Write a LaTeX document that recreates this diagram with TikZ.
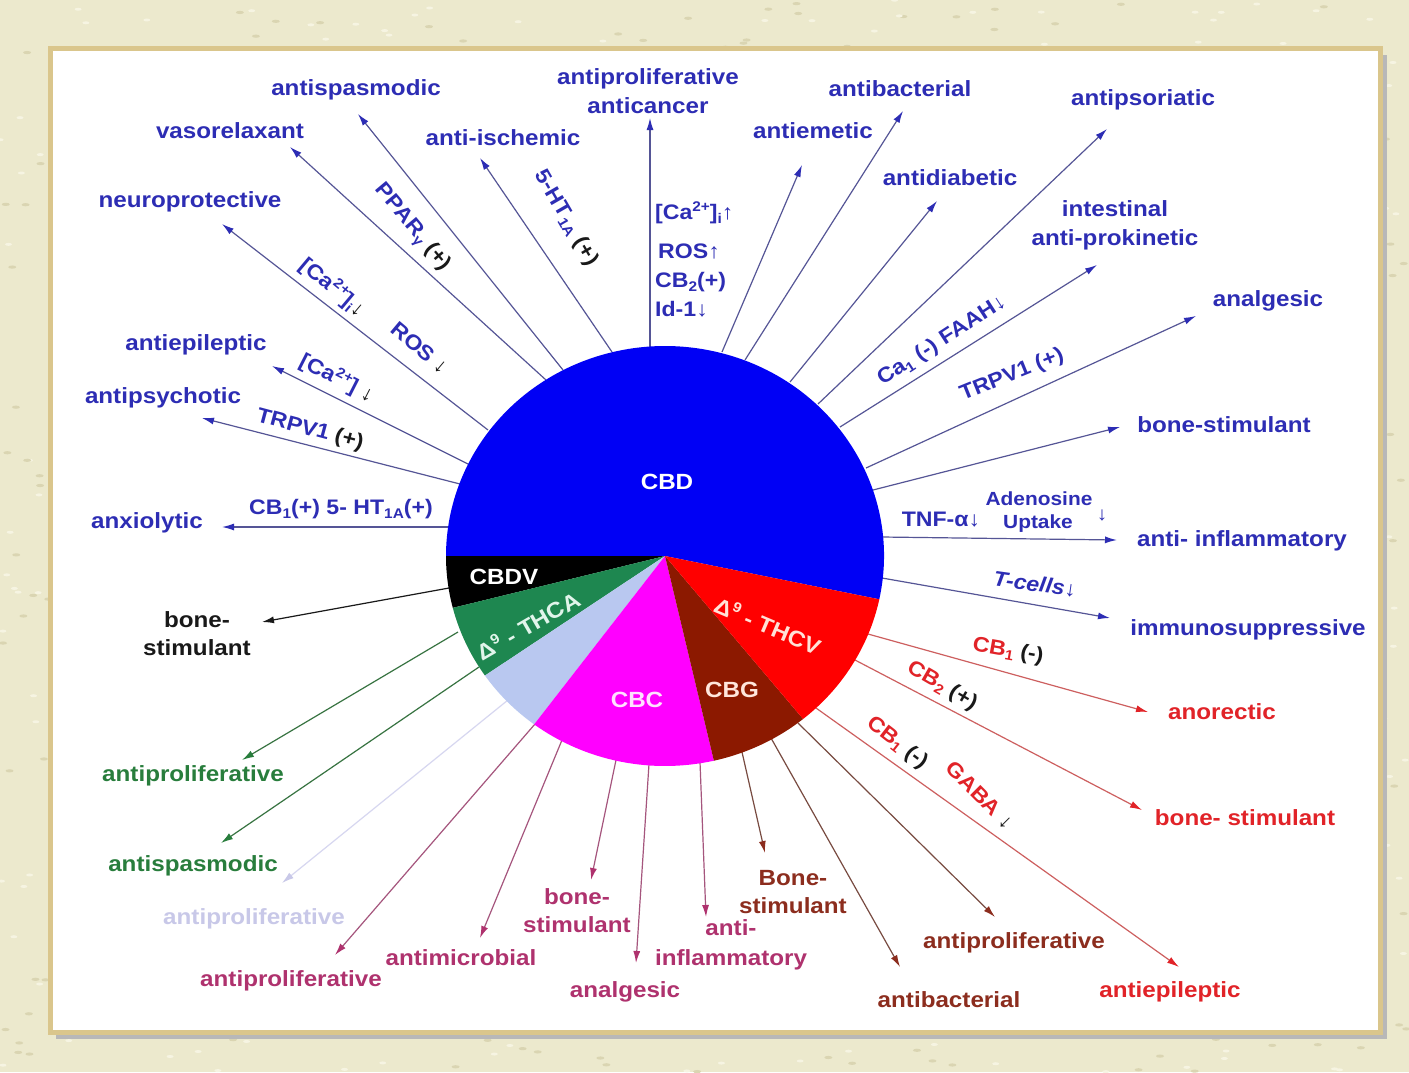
\documentclass[tikz,border=0pt]{standalone}
\usepackage{fontspec}
\setmainfont{Liberation Sans}[FakeStretch=1.1]
\usetikzlibrary{arrows.meta}
\definecolor{bgbeige}{RGB}{236,233,205}
\definecolor{bgdot}{RGB}{218,213,178}
\definecolor{bglight}{RGB}{246,244,226}
\definecolor{framegold}{RGB}{218,198,140}
\definecolor{tblue}{RGB}{45,45,180}
\definecolor{lblue}{RGB}{85,85,150}
\definecolor{tred}{RGB}{225,35,40}
\definecolor{lred}{RGB}{205,95,95}
\definecolor{tmaroon}{RGB}{140,45,30}
\definecolor{lmaroon}{RGB}{120,75,65}
\definecolor{tmag}{RGB}{175,50,110}
\definecolor{lmag}{RGB}{165,85,125}
\definecolor{tgreen}{RGB}{40,125,60}
\definecolor{lgreen}{RGB}{55,115,65}
\definecolor{tlav}{RGB}{200,200,232}
\definecolor{llav}{RGB}{215,215,240}
\definecolor{tblack}{RGB}{25,25,25}
\definecolor{pcbd}{RGB}{0,0,245}
\definecolor{pthca}{RGB}{30,135,80}
\definecolor{plb}{RGB}{185,200,240}
\definecolor{pcbc}{RGB}{255,0,255}
\definecolor{pcbg}{RGB}{140,25,0}
\definecolor{pthcv}{RGB}{255,0,0}
\definecolor{wthca}{RGB}{225,245,235}
\definecolor{wcbc}{RGB}{255,225,255}
\definecolor{wcbg}{RGB}{255,230,220}
\definecolor{wthcv}{RGB}{255,225,215}
\newcommand\sbx[1]{\raisebox{-0.35ex}{\fontsize{14}{14}\selectfont #1}}
\newcommand\spx[1]{\raisebox{0.75ex}{\fontsize{14}{14}\selectfont #1}}
\begin{document}
\begin{tikzpicture}[x=1pt,y=-1pt,
  lab/.style={font=\fontsize{22}{28}\selectfont\bfseries, text=#1, inner sep=0pt, align=center},
  ann/.style={font=\fontsize{21}{24}\selectfont\bfseries, text=#1, inner sep=0pt},
  small/.style={font=\fontsize{19}{22}\selectfont\bfseries, text=#1, inner sep=0pt},
  conn/.style 2 args={draw=#1, line width=1.2pt, -{Latex[length=12pt,width=7pt,color=#2]}},
  slice/.style={fill=#1, draw=none},
  pietxt/.style={font=\fontsize{22}{24}\selectfont\bfseries, text=#1, inner sep=0pt}]
\useasboundingbox (0,0) rectangle (1409,1072);
% background texture and frame
\fill[bgbeige] (0,0) rectangle (1409,1072);
\pgfmathsetseed{7}
\foreach \k in {1,...,700} {
  \pgfmathsetmacro{\px}{rnd*1409}
  \pgfmathsetmacro{\py}{rnd*1072}
  \fill[bgdot] (\px,\py) ellipse[x radius=4pt, y radius=1.6pt];
  \pgfmathsetmacro{\qx}{rnd*1409}
  \pgfmathsetmacro{\qy}{rnd*1072}
  \fill[bglight] (\qx,\qy) ellipse[x radius=3.5pt, y radius=1.5pt];
}
\fill[black!28] (56,55) rectangle (1387,1039);
\draw[framegold, line width=5pt, fill=white] (50,48) rectangle (1380,1032);
\coordinate (C) at (665,556);
% ---------- start / end coordinates ----------
\coordinate (s1) at (449,527);  \coordinate (e1) at (222,527);
\coordinate (s2) at (460,484);  \coordinate (e2) at (202,418);
\coordinate (s3) at (470,465);  \coordinate (e3) at (272,366);
\coordinate (s4) at (488,430);  \coordinate (e4) at (222,224);
\coordinate (s5) at (546,380);  \coordinate (e5) at (290,147);
\coordinate (s6) at (563,370);  \coordinate (e6) at (358,114);
\coordinate (s7) at (612,352);  \coordinate (e7) at (480,158);
\coordinate (s8) at (650,347);  \coordinate (e8) at (650,118);
\coordinate (s9) at (722,352);  \coordinate (e9) at (802,165);
\coordinate (s10) at (745,360); \coordinate (e10) at (903,111);
\coordinate (s11) at (790,382); \coordinate (e11) at (937,201);
\coordinate (s12) at (818,404); \coordinate (e12) at (1107,129);
\coordinate (s13) at (840,427); \coordinate (e13) at (1097,265);
\coordinate (s14) at (866,468); \coordinate (e14) at (1196,316);
\coordinate (s15) at (873,490); \coordinate (e15) at (1120,427);
\coordinate (s16) at (882,537); \coordinate (e16) at (1117,540);
\coordinate (s17) at (882,578); \coordinate (e17) at (1110,618);
\coordinate (s18) at (868,634); \coordinate (e18) at (1148,712);
\coordinate (s19) at (855,660); \coordinate (e19) at (1142,810);
\coordinate (s20) at (816,708); \coordinate (e20) at (1179,967);
\coordinate (s21) at (798,723); \coordinate (e21) at (995,917);
\coordinate (s22) at (771,738); \coordinate (e22) at (900,967);
\coordinate (s23) at (742,752); \coordinate (e23) at (765,853);
\coordinate (s24) at (700,762); \coordinate (e24) at (706,917);
\coordinate (s25) at (649,764); \coordinate (e25) at (636,963);
\coordinate (s26) at (616,760); \coordinate (e26) at (591,880);
\coordinate (s27) at (562,740); \coordinate (e27) at (480,938);
\coordinate (s28) at (535,724); \coordinate (e28) at (335,955);
\coordinate (s29) at (508,700); \coordinate (e29) at (282,883);
\coordinate (s30) at (479,667); \coordinate (e30) at (221,843);
\coordinate (s31) at (458,632); \coordinate (e31) at (242,760);
\coordinate (s32) at (449,588); \coordinate (e32) at (262,622);
% ---------- connectors ----------
\foreach \i in {1,...,17} {\draw[conn={lblue}{tblue}] (s\i) -- (e\i);}
\foreach \i in {18,19,20} {\draw[conn={lred}{tred}] (s\i) -- (e\i);}
\foreach \i in {21,22,23} {\draw[conn={lmaroon}{tmaroon}] (s\i) -- (e\i);}
\foreach \i in {24,...,28} {\draw[conn={lmag}{tmag}] (s\i) -- (e\i);}
\draw[conn={llav}{tlav}] (s29) -- (e29);
\foreach \i in {30,31} {\draw[conn={lgreen}{tgreen}] (s\i) -- (e\i);}
\draw[conn={tblack}{tblack}] (s32) -- (e32);
% ---------- pie ----------
\fill[slice=pcbd]  (C) -- ++(-11.9:219pt and 210pt) arc[start angle=-11.9, end angle=180, x radius=219pt, y radius=210pt] -- cycle;
\fill[slice=black] (C) -- ++(180:219pt and 210pt) arc[start angle=180, end angle=194.3, x radius=219pt, y radius=210pt] -- cycle;
\fill[slice=pthca] (C) -- ++(194.3:219pt and 210pt) arc[start angle=194.3, end angle=214.7, x radius=219pt, y radius=210pt] -- cycle;
\fill[slice=plb]   (C) -- ++(214.7:219pt and 210pt) arc[start angle=214.7, end angle=233.3, x radius=219pt, y radius=210pt] -- cycle;
\fill[slice=pcbc]  (C) -- ++(233.3:219pt and 210pt) arc[start angle=233.3, end angle=282.9, x radius=219pt, y radius=210pt] -- cycle;
\fill[slice=pcbg]  (C) -- ++(282.9:219pt and 210pt) arc[start angle=282.9, end angle=309.1, x radius=219pt, y radius=210pt] -- cycle;
\fill[slice=pthcv] (C) -- ++(309.1:219pt and 210pt) arc[start angle=309.1, end angle=348.1, x radius=219pt, y radius=210pt] -- cycle;
\node[pietxt=white] (pCBD) at (667,482) {CBD};
\node[pietxt=white] (pCBDV) at (504,577) {CBDV};
\node[pietxt=wthca, rotate=30] (pTHCA) at (528,625) {Δ\spx{9} - THCA};
\node[pietxt=wcbc] (pCBC) at (637,700) {CBC};
\node[pietxt=wcbg] (pCBG) at (732,690) {CBG};
\node[pietxt=wthcv, rotate=-23] (pTHCV) at (768,625) {Δ\spx{9} - THCV};
% ---------- end labels ----------
\node[lab=tblue] (t1) at (147,523) {anxiolytic};
\node[lab=tblue] (t2) at (163,398) {antipsychotic};
\node[lab=tblue] (t3) at (196,345) {antiepileptic};
\node[lab=tblue] (t4) at (190,202) {neuroprotective};
\node[lab=tblue] (t5) at (230,131) {vasorelaxant};
\node[lab=tblue] (t6) at (356,90) {antispasmodic};
\node[lab=tblue] (t7) at (503,138) {anti-ischemic};
\node[lab=tblue, font=\fontsize{22}{29}\selectfont\bfseries] (t8) at (648,91) {antiproliferative\\anticancer};
\node[lab=tblue] (t9) at (813,131) {antiemetic};
\node[lab=tblue] (t10) at (900,89) {antibacterial};
\node[lab=tblue] (t11) at (950,178) {antidiabetic};
\node[lab=tblue] (t12) at (1143,100) {antipsoriatic};
\node[lab=tblue, font=\fontsize{22}{29}\selectfont\bfseries] (t13) at (1115,225) {intestinal\\anti-prokinetic};
\node[lab=tblue] (t14) at (1268,301) {analgesic};
\node[lab=tblue] (t15) at (1224,425) {bone-stimulant};
\node[lab=tblue] (t16) at (1242,541) {anti- inflammatory};
\node[lab=tblue] (t17) at (1248,630) {immunosuppressive};
\node[lab=tred] (t18) at (1222,712) {anorectic};
\node[lab=tred] (t19) at (1245,818) {bone- stimulant};
\node[lab=tred] (t20) at (1170,992) {antiepileptic};
\node[lab=tmaroon] (t21) at (1014,943) {antiproliferative};
\node[lab=tmaroon] (t22) at (949,1000) {antibacterial};
\node[lab=tmaroon] (t23) at (793,892) {Bone-\\stimulant};
\node[lab=tmag, font=\fontsize{22}{30}\selectfont\bfseries] (t24) at (731,945) {anti-\\inflammatory};
\node[lab=tmag] (t25) at (625,992) {analgesic};
\node[lab=tmag] (t26) at (577,911) {bone-\\stimulant};
\node[lab=tmag] (t27) at (461,958) {antimicrobial};
\node[lab=tmag] (t28) at (291,981) {antiproliferative};
\node[lab=tlav] (t29) at (254,919) {antiproliferative};
\node[lab=tgreen] (t30) at (193,866) {antispasmodic};
\node[lab=tgreen] (t31) at (193,776) {antiproliferative};
\node[lab=tblack] (t32) at (197,634) {bone-\\stimulant};
% ---------- annotations on connectors ----------
\node[ann=tblue] (a1) at (341,509) {CB\sbx{1}(+) 5- HT\sbx{1A}(+)};
\node[ann=tblue, rotate=-15] (a2) at (310,430) {TRPV1 \textcolor{tblack}{(+)}};
\node[ann=tblue, rotate=-27] (a3) at (337,378) {[Ca\spx{2+}] \textcolor{tblack}{↓}};
\node[ann=tblue, rotate=-40] (a4) at (333,287) {[Ca\spx{2+}]\sbx{i}\textcolor{tblack}{↓}};
\node[ann=tblue, rotate=-40] (a5) at (420,348) {ROS \textcolor{tblack}{↓}};
\node[ann=tblue, rotate=-50] (a6) at (412,228) {PPAR\sbx{γ} \textcolor{tblack}{(+)}};
\node[ann=tblue, rotate=-60] (a7) at (566,218) {5-HT\sbx{1A} \textcolor{tblack}{(+)}};
\node[ann=tblue, anchor=west] (a8) at (655,213) {[Ca\spx{2+}]\sbx{i}↑};
\node[ann=tblue, anchor=west] (a9) at (658,251) {ROS↑};
\node[ann=tblue, anchor=west] (a10) at (655,282) {CB\sbx{2}(+)};
\node[ann=tblue, anchor=west] (a11) at (655,309) {Id-1↓};
\node[ann=tblue, rotate=33] (a12) at (942,341) {Ca\sbx{1} (-) FAAH↓};
\node[ann=tblue, rotate=22] (a13) at (1012,375) {TRPV1 (+)};
\node[ann=tblue] (a14) at (941,520) {TNF-α↓};
\node[small=tblue] (a15) at (1039,499) {Adenosine};
\node[small=tblue] (a16) at (1038,524) {Uptake};
\node[small=tblue] (a17) at (1102,515) {↓};
\node[ann=tblue, rotate=-8] (a18) at (1035,584) {\itshape T-cells↓};
\node[ann=tred, rotate=-10] (a19) at (1008,651) {CB\sbx{1} \textcolor{tblack}{(-)}};
\node[ann=tred, rotate=-30] (a20) at (942,686) {CB\sbx{2} \textcolor{tblack}{(+)}};
\node[ann=tred, rotate=-38] (a21) at (897,743) {CB\sbx{1} \textcolor{tblack}{(-)}};
\node[ann=tred, rotate=-45] (a22) at (980,795) {GABA \textcolor{tblack}{↓}};
\end{tikzpicture}
\end{document}
